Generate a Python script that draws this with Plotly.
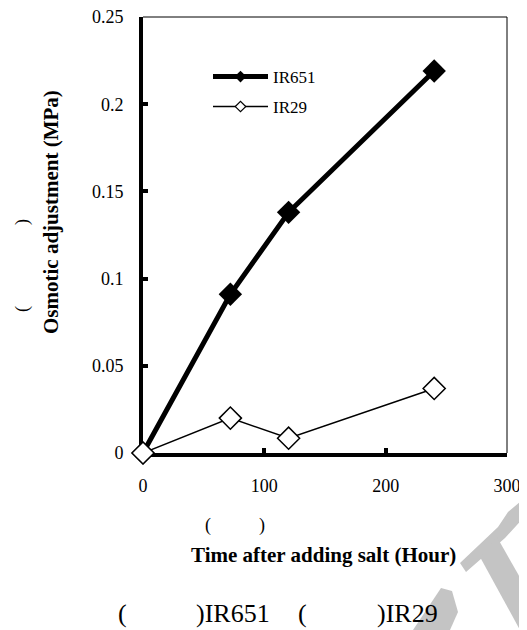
import plotly.graph_objects as go

# Data
hours = [0, 72, 120, 240]
ir651 = [0.0, 0.091, 0.138, 0.219]
ir29 = [0.0, 0.020, 0.0085, 0.037]
series_names = ["IR651", "IR29"]
x_ticks = [0, 100, 200, 300]
x_ticktext = ["0", "100", "200", "300"]
y_ticks = [0, 0.05, 0.1, 0.15, 0.2, 0.25]
y_ticktext = ["0", "0.05", "0.1", "0.15", "0.2", "0.25"]

OFF = 8  # page body margin
W, H = 527 - OFF, 630 - OFF
L, R, T, B = 143 - OFF, 20, 17 - OFF, 177
PW, PH = W - L - R, H - T - B
SERIF = "Liberation Serif"


def px(x):
    return (x - OFF - L) / PW


def py(y):
    return (H - B - (y - OFF)) / PH


fig = go.Figure()

fig.add_trace(go.Scatter(
    x=hours, y=ir651, mode="lines+markers", name=series_names[0],
    line=dict(color="black", width=5),
    marker=dict(symbol="diamond", size=18, color="black"),
    cliponaxis=False, showlegend=False))
fig.add_trace(go.Scatter(
    x=hours, y=ir29, mode="lines+markers", name=series_names[1],
    line=dict(color="black", width=1.5),
    marker=dict(symbol="diamond", size=17, color="white",
                line=dict(color="black", width=1.5)),
    cliponaxis=False, showlegend=False))

# legend-only entries
fig.add_trace(go.Scatter(
    x=[None], y=[None], mode="lines+markers", name=series_names[0],
    line=dict(color="black", width=5),
    marker=dict(symbol="diamond", size=9, color="black"),
    legend="legend"))
fig.add_trace(go.Scatter(
    x=[None], y=[None], mode="lines+markers", name=series_names[1],
    line=dict(color="black", width=1.5),
    marker=dict(symbol="diamond", size=8, color="white",
                line=dict(color="black", width=1.2)),
    legend="legend2"))

legend_common = dict(font=dict(family=SERIF, size=17, color="black"),
                     bgcolor="rgba(0,0,0,0)", itemwidth=55,
                     xanchor="left", yanchor="middle", itemsizing="trace")
fig.update_layout(
    legend=dict(x=px(208), y=py(77), **legend_common),
    legend2=dict(x=px(208), y=py(107), **legend_common),
)

fig.update_xaxes(
    range=[0, 300], tickvals=x_ticks, ticktext=x_ticktext,
    showline=True, linewidth=4, linecolor="black",
    ticks="inside", ticklen=5, tickwidth=4, tickcolor="black",
    showgrid=False, zeroline=False, layer="below traces",
    tickfont=dict(family=SERIF, size=18, color="black"),
    ticklabelstandoff=13, ticklabeloverflow="allow", automargin=False)
fig.update_yaxes(
    range=[0, 0.25], tickvals=y_ticks, ticktext=y_ticktext,
    showline=True, linewidth=4, linecolor="black",
    ticks="inside", ticklen=5, tickwidth=4, tickcolor="black",
    showgrid=False, zeroline=False, layer="below traces",
    tickfont=dict(family=SERIF, size=18, color="black"),
    ticklabelstandoff=12, ticklabeloverflow="allow", automargin=False)

# thin top/right frame
fig.add_shape(type="line", xref="x domain", yref="y domain",
              x0=0, x1=1, y0=1, y1=1, line=dict(color="black", width=1))
fig.add_shape(type="line", xref="x domain", yref="y domain",
              x0=1, x1=1, y0=0, y1=1, line=dict(color="black", width=1))

# watermark (decorative)
def poly(points):
    return "M " + " L ".join(f"{px(a)},{py(b)}" for a, b in points) + " Z"

wm = "#c4c4c4"
for pts in [
    [(460, 563), (498, 527), (508, 512), (527, 496), (527, 514), (505, 538), (466, 572)],
    [(480, 557), (497, 537), (527, 590), (527, 630), (520, 630)],
    [(441, 588), (452, 591), (458, 612), (450, 630), (413, 630)],
]:
    fig.add_shape(type="path", xref="paper", yref="paper", path=poly(pts),
                  fillcolor=wm, line=dict(width=0), layer="below")

ann = []

def text(x, y, s, size, bold=False, angle=0, xanchor="center"):
    ann.append(dict(x=px(x), y=py(y), xref="paper", yref="paper",
                    text=f"<b>{s}</b>" if bold else s, showarrow=False,
                    textangle=angle, xanchor=xanchor, yanchor="middle",
                    font=dict(family=SERIF, size=size, color="black")))

# y title and parentheses
text(51, 212, "Osmotic adjustment (MPa)", 21, bold=True, angle=-90)
text(22, 309, "(", 18, angle=-90)
text(22, 222, ")", 18, angle=-90)
# x title and parentheses
text(323, 555, "Time after adding salt (Hour)", 21, bold=True)
text(208, 525, "(", 18)
text(262, 525, ")", 18)
# caption
text(122, 613, "(", 26)
text(194, 613, ")IR651", 26, xanchor="left")
text(302, 613, "(", 26)
text(375, 613, ")IR29", 26, xanchor="left")

fig.update_layout(
    width=W, height=H,
    margin=dict(l=L, r=R, t=T, b=B, autoexpand=False),
    paper_bgcolor="white", plot_bgcolor="white",
    annotations=ann,
)

fig.write_html("out.html")
